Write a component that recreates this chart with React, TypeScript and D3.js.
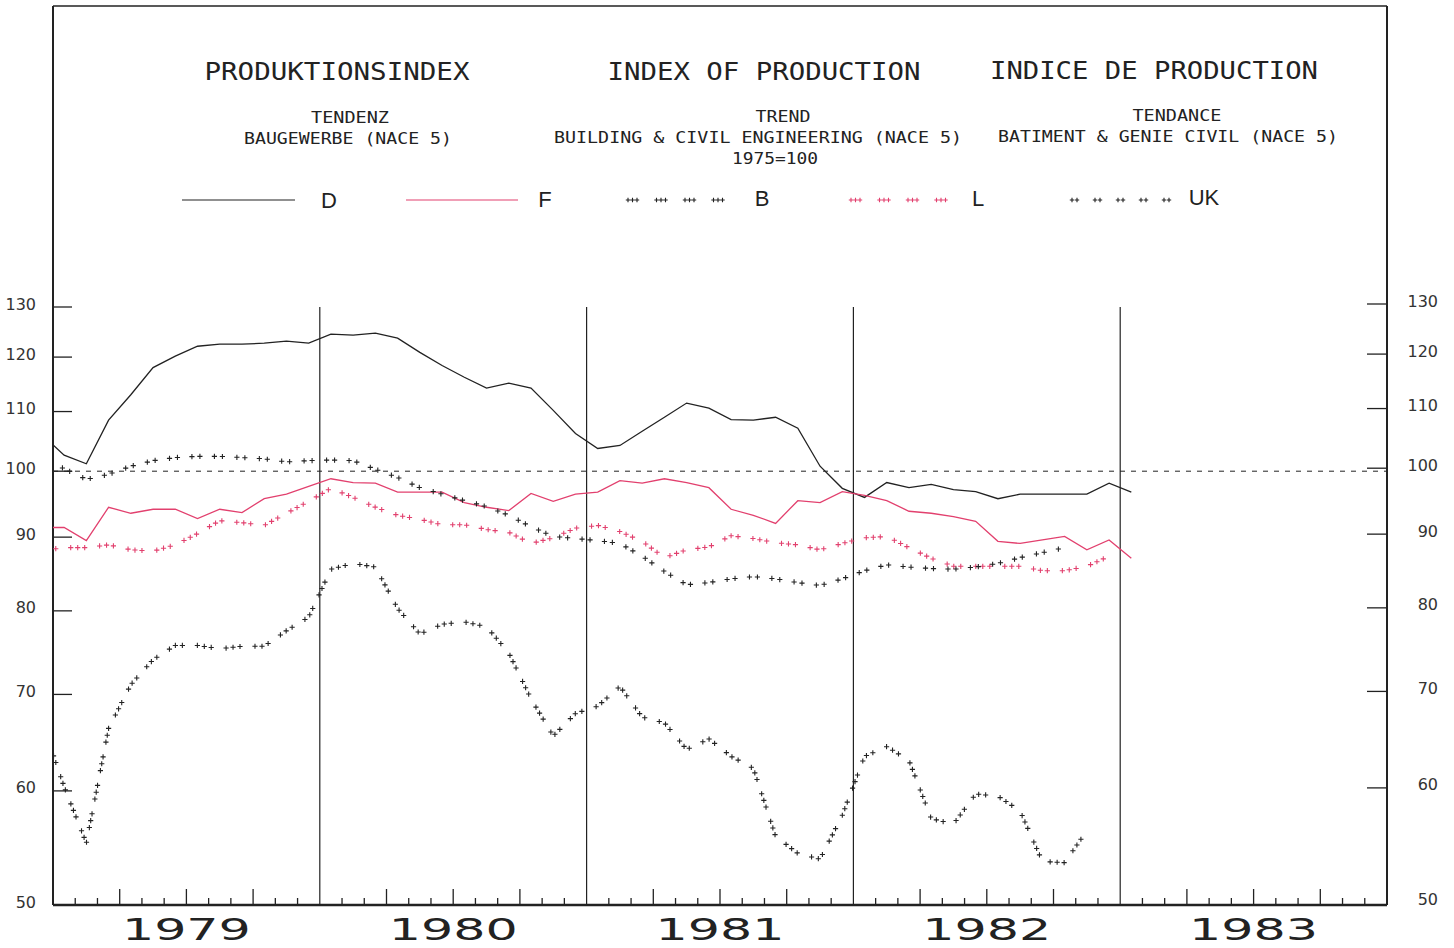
import React from 'react';
import * as d3 from 'd3';

// Monthly trend values, first value = Dec 1978 (clipped at the left edge)
const firstMonth = -1;
const years = ['1979', '1980', '1981', '1982', '1983'];
const yTicks = [50, 60, 70, 80, 90, 100, 110, 120, 130];

const seriesD = [
  106, 102.6, 101.2, 108.5, 113, 118, 120.2, 122.1, 122.5, 122.5, 122.7, 123.1, 122.7,
  124.5, 124.3, 124.7, 123.7, 120.9, 118.4, 116.2, 114.2, 115.1, 114.2, 110.2, 106.2,
  103.7, 104.2, 106.6, 109, 111.5, 110.6, 108.6, 108.5, 109, 107.1, 100.8, 97.3,
  95.9, 98.2, 97.4, 97.9, 97.1, 96.8, 95.7, 96.4, 96.4, 96.4, 96.4, 98.1, 96.7,
];
const seriesF = [
  91.4, 91.4, 89.5, 94.4, 93.5, 94.1, 94.1, 92.7, 94.1, 93.6, 95.7, 96.4, 97.6,
  98.8, 98.2, 98.1, 96.7, 96.7, 96.7, 95.1, 94.4, 93.9, 96.5, 95.3, 96.4,
  96.7, 98.5, 98.1, 98.8, 98.2, 97.4, 94.1, 93.2, 92, 95.4, 95.1, 96.8,
  96.2, 95.4, 93.8, 93.5, 93, 92.3, 89.4, 89.1, 89.6, 90.1, 88.2, 89.6, 87,
];
const seriesB = [
  67, 60.4, 55.2, 66.3, 71.1, 74, 75.7, 75.7, 75.3, 75.6, 75.6, 77.5, 79.2,
  85.5, 86.3, 85.8, 80.3, 77.1, 78.3, 78.6, 78, 74.8, 69.5, 65.5, 67.9,
  68.7, 70.9, 67.5, 66.9, 64.1, 65.2, 63.4, 62.2, 55.8, 54.3, 53.8, 57.7,
  63.4, 64.4, 63, 57.4, 56.9, 59.7, 59.5, 58.1, 53.6, 53.5, 56.3,
];
const seriesL = [
  88.1, 88.5, 88.5, 88.9, 88.2, 88, 88.9, 90.5, 92.4, 92.1, 91.7, 93.5, 95.3,
  97.3, 95.9, 94.4, 93.2, 92.6, 91.8, 91.8, 91.1, 90.7, 89.1, 89.9, 91.3,
  91.7, 90.8, 89.4, 87.1, 88.2, 88.6, 90.2, 89.8, 89.2, 88.9, 88.2, 89.1,
  89.9, 90.1, 88.5, 87, 85.9, 85.9, 85.9, 85.9, 85.3, 85.3, 85.9, 87.3,
];
const seriesUK = [
  102, 100.4, 98.7, 99.5, 100.8, 101.7, 102.2, 102.4, 102.4, 102.2, 102, 101.5, 101.7,
  101.8, 101.7, 100.3, 99, 97.4, 96.4, 95.4, 94.5, 93.2, 91.5, 90.1, 89.8,
  89.5, 89.1, 87.3, 85.2, 83.4, 83.7, 84.2, 84.5, 84.2, 83.7, 83.3, 84.2,
  85.3, 86.1, 85.8, 85.6, 85.5, 85.8, 86.3, 87.1, 87.8, 88.5,
];

const BLACK = '#222';
const PINK = '#e2406e';

type Pt = [number, number];

// place "+" marks along a polyline in groups (count marks every period px of arc)
function patternPoints(pts: Pt[], period: number, count: number, step: number): Pt[] {
  const segs: { a: Pt; b: Pt; s0: number; len: number }[] = [];
  let total = 0;
  for (let i = 1; i < pts.length; i++) {
    const len = Math.hypot(pts[i][0] - pts[i - 1][0], pts[i][1] - pts[i - 1][1]);
    segs.push({ a: pts[i - 1], b: pts[i], s0: total, len });
    total += len;
  }
  const out: Pt[] = [];
  let k = 0;
  for (let g = 0; g <= total; g += period) {
    for (let j = 0; j < count; j++) {
      const s = g + j * step;
      if (s > total) break;
      while (k < segs.length - 1 && segs[k].s0 + segs[k].len < s) k++;
      const sg = segs[k];
      const t = sg.len ? (s - sg.s0) / sg.len : 0;
      out.push([sg.a[0] + (sg.b[0] - sg.a[0]) * t, sg.a[1] + (sg.b[1] - sg.a[1]) * t]);
    }
  }
  return out;
}

const plus = (p: Pt, r = 2.6) =>
  `M${p[0] - r},${p[1]}H${p[0] + r}M${p[0]},${p[1] - r}V${p[1] + r}`;

export default function App() {
  const W = 1454;
  const H = 948;
  const left = 53;
  const right = 1387;
  const top = 6;
  const bottom = 905;

  const x = d3.scaleLinear().domain([0, 60]).range([left, right]);
  const y = d3.scaleLog().domain([50, 130]).range([bottom, 307]);

  const toPts = (vals: number[]): Pt[] =>
    vals.map((v, i) => [x(firstMonth + i + 0.5), y(v)] as Pt);

  const line = d3.line<Pt>().x(d => d[0]).y(d => d[1]);

  const marks = (vals: number[], period: number, count: number, step: number) =>
    patternPoints(toPts(vals), period, count, step)
      .filter(p => p[0] >= left)
      .map(p => plus(p))
      .join('');

  const months = d3.range(1, 60);
  const yearLines = [12, 24, 36, 48];

  const legendY = 200;
  const legendMarks = (x0: number, x1: number, period: number, count: number, step: number) =>
    patternPoints([[x0, legendY], [x1, legendY]], period, count, step).map(p => plus(p, 2.2)).join('');

  const titleFont = '"DejaVu Sans Mono", monospace';
  const subFont = '"DejaVu Sans Mono", monospace';

  return (
    <svg
      width={W}
      height={H}
      style={{ position: 'absolute', left: 0, top: 0, background: '#fff' }}
    >
      <defs>
        <clipPath id="plot">
          <rect x={left} y={top} width={right - left} height={bottom - top} />
        </clipPath>
      </defs>

      {/* frame */}
      <line x1={left} x2={right} y1={top} y2={top} stroke={BLACK} strokeWidth={1.6} />
      <line x1={left} x2={left} y1={top} y2={bottom} stroke={BLACK} strokeWidth={2} />
      <line x1={right} x2={right} y1={top} y2={bottom} stroke={BLACK} strokeWidth={2} />
      <line x1={left} x2={right} y1={bottom} y2={bottom} stroke={BLACK} strokeWidth={2.5} />

      {/* titles */}
      <g fill={BLACK} fontFamily={titleFont} fontSize={25} textAnchor="middle">
        <text x={337} y={80} textLength={265} lengthAdjust="spacingAndGlyphs">PRODUKTIONSINDEX</text>
        <text x={764} y={80} textLength={313} lengthAdjust="spacingAndGlyphs">INDEX OF PRODUCTION</text>
        <text x={1154} y={79} textLength={328} lengthAdjust="spacingAndGlyphs">INDICE DE PRODUCTION</text>
      </g>
      <g fill={BLACK} fontFamily={subFont} fontSize={15.5} textAnchor="middle">
        <text x={350} y={123} textLength={78} lengthAdjust="spacingAndGlyphs">TENDENZ</text>
        <text x={348} y={144} textLength={208} lengthAdjust="spacingAndGlyphs">BAUGEWERBE (NACE 5)</text>
        <text x={783} y={122} textLength={55} lengthAdjust="spacingAndGlyphs">TREND</text>
        <text x={758} y={143} textLength={408} lengthAdjust="spacingAndGlyphs">BUILDING &amp; CIVIL ENGINEERING (NACE 5)</text>
        <text x={775} y={164} textLength={86} lengthAdjust="spacingAndGlyphs">1975=100</text>
        <text x={1177} y={121} textLength={89} lengthAdjust="spacingAndGlyphs">TENDANCE</text>
        <text x={1168} y={142} textLength={340} lengthAdjust="spacingAndGlyphs">BATIMENT &amp; GENIE CIVIL (NACE 5)</text>
      </g>

      {/* legend */}
      <g>
        <line x1={182} x2={295} y1={legendY} y2={legendY} stroke={BLACK} strokeWidth={1.2} />
        <line x1={406} x2={518} y1={legendY} y2={legendY} stroke={PINK} strokeWidth={1.2} />
        <path d={legendMarks(628, 737, 28.5, 3, 4.5)} stroke={BLACK} strokeWidth={1.1} />
        <path d={legendMarks(851, 960, 28.5, 3, 4.5)} stroke={PINK} strokeWidth={1.1} />
        <path d={legendMarks(1072, 1175, 23, 2, 5)} stroke={BLACK} strokeWidth={1.1} />
        <g fill={BLACK} fontFamily='"Liberation Sans", Arial, sans-serif' fontSize={22} textAnchor="middle">
          <text x={329} y={208}>D</text>
          <text x={545} y={207}>F</text>
          <text x={762} y={206}>B</text>
          <text x={978} y={206}>L</text>
          <text x={1204} y={205}>UK</text>
        </g>
      </g>

      {/* y axes */}
      <g stroke={BLACK} strokeWidth={1.3}>
        {yTicks.slice(1).map(v => (
          <React.Fragment key={v}>
            <line x1={left} x2={left + 19} y1={y(v)} y2={y(v)} />
            <line x1={right - 20} x2={right} y1={y(v) - 3} y2={y(v) - 3} />
          </React.Fragment>
        ))}
      </g>
      <g fill="#333" fontFamily='"DejaVu Sans", sans-serif' fontSize={16} dominantBaseline="central">
        {yTicks.map(v => (
          <text key={`l${v}`} x={36} y={y(v) - 3} textAnchor="end">{v}</text>
        ))}
        {yTicks.map(v => (
          <text key={`r${v}`} x={1438} y={y(v) - 6} textAnchor="end">{v}</text>
        ))}
      </g>

      {/* month ticks */}
      <g stroke={BLACK} strokeWidth={1.3}>
        {months.filter(m => m % 12 !== 0).map(m => (
          <line key={m} x1={x(m)} x2={x(m)} y1={bottom} y2={bottom - (m % 3 === 0 ? 16 : 7)} />
        ))}
      </g>

      {/* year lines */}
      <g stroke={BLACK} strokeWidth={1.2}>
        {yearLines.map(m => (
          <line key={m} x1={x(m)} x2={x(m)} y1={y(130)} y2={bottom} />
        ))}
      </g>

      {/* base line 100 */}
      <line x1={left} x2={right} y1={y(100)} y2={y(100)} stroke={BLACK} strokeWidth={1} strokeDasharray="5,6" />

      {/* year labels */}
      <g fill={BLACK} fontFamily='"DejaVu Sans", sans-serif' fontSize={30} textAnchor="middle">
        {years.map((yr, i) => (
          <text key={yr} x={x(i * 12 + 6)} y={940} textLength={129} lengthAdjust="spacingAndGlyphs">{yr}</text>
        ))}
      </g>

      {/* series */}
      <g clipPath="url(#plot)" fill="none">
        <path d={line(toPts(seriesD)) || ''} stroke={BLACK} strokeWidth={1.3} />
        <path d={line(toPts(seriesF)) || ''} stroke={PINK} strokeWidth={1.3} />
        <path d={marks(seriesB, 29, 3, 7)} stroke={BLACK} strokeWidth={1.1} />
        <path d={marks(seriesL, 29, 3, 7)} stroke={PINK} strokeWidth={1.1} />
        <path d={marks(seriesUK, 22.5, 2, 8)} stroke={BLACK} strokeWidth={1.1} />
      </g>
    </svg>
  );
}
